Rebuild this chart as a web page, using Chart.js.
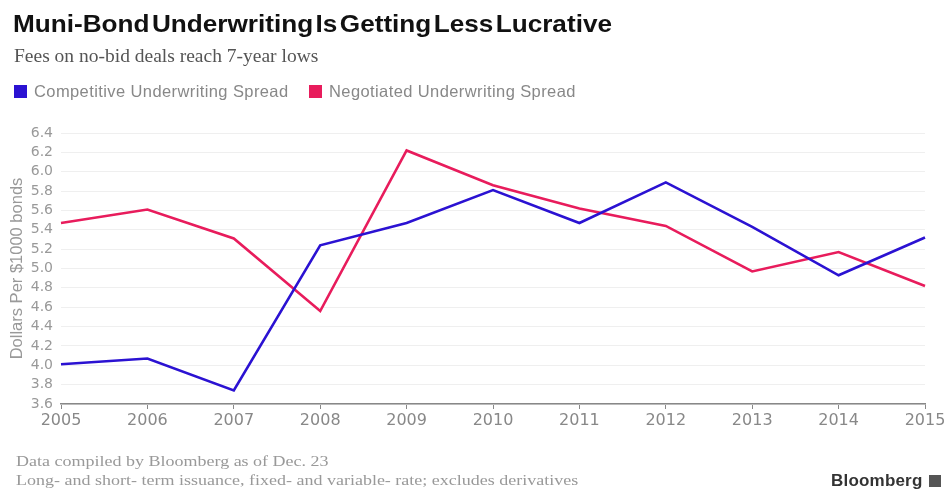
<!DOCTYPE html>
<html>
<head>
<meta charset="utf-8">
<script src="https://cdn.jsdelivr.net/npm/chart.js@4"></script>
<style>
  html, body { margin: 0; padding: 0; background: #fff; }
  #wrap { position: relative; width: 944px; height: 489px; overflow: hidden; }
  canvas { position: absolute; left: 0; top: 0; }
  .t { position: absolute; white-space: nowrap; transform-origin: 0 0; }
  #title { left: 13px; top: 12px; font: bold 24px/24px "Liberation Sans", Arial, sans-serif; word-spacing: -4.5px; color: #111; transform: scaleX(1.09); }
  #sub { left: 14px; top: 46px; font: 19.5px/19.5px "Liberation Serif", "Times New Roman", serif; color: #555; }
  .leg { position: absolute; top: 82px; font: 16.5px/19px "Liberation Sans", Arial, sans-serif; letter-spacing: 0.4px; color: #888; white-space: nowrap; }
  .sq { display: inline-block; width: 13px; height: 13px; vertical-align: -1px; margin-right: 7px; }
  .foot { position: absolute; left: 16px; font: 15px/15px "Liberation Serif", "Times New Roman", serif; color: #999; white-space: nowrap; transform-origin: 0 0; transform: scaleX(1.2); }
  #logo { position: absolute; left: 831px; top: 472px; font: bold 17px/17px "Liberation Sans", Arial, sans-serif; color: #333; letter-spacing: 0.2px; white-space: nowrap; }
  #logo span { display: inline-block; width: 12px; height: 12px; background: #555; vertical-align: -1px; margin-left: 6px; }
</style>
</head>
<body>
<div id="wrap">
  <canvas id="c" width="944" height="489"></canvas>
  <div class="t" id="title">Muni-Bond Underwriting Is Getting Less Lucrative</div>
  <div class="t" id="sub">Fees on no-bid deals reach 7-year lows</div>
  <div class="leg" style="left:14px"><span class="sq" style="background:#2b12d2"></span>Competitive Underwriting Spread</div>
  <div class="leg" style="left:309px"><span class="sq" style="background:#e81c5c"></span>Negotiated Underwriting Spread</div>
  <div class="foot" style="top:454px">Data compiled by Bloomberg as of Dec. 23</div>
  <div class="foot" style="top:473px">Long- and short- term issuance, fixed- and variable- rate; excludes derivatives</div>
  <div id="logo">Bloomberg<span></span></div>
</div>
<script>
const years = ["2005","2006","2007","2008","2009","2010","2011","2012","2013","2014","2015"];
const competitive = [4.01, 4.07, 3.74, 5.24, 5.47, 5.81, 5.47, 5.89, 5.43, 4.93, 5.32];
const negotiated  = [5.47, 5.61, 5.31, 4.56, 6.22, 5.86, 5.62, 5.44, 4.97, 5.17, 4.82];
const seriesNames = ["Competitive Underwriting Spread", "Negotiated Underwriting Spread"];
const yMin = 3.6, yMax = 6.4, yStep = 0.2;
const yTitle = "Dollars Per $1000 bonds";

new Chart(document.getElementById('c'), {
  type: 'line',
  data: {
    labels: years,
    datasets: [
      { label: seriesNames[0], data: competitive, borderColor: '#2b12d2', borderWidth: 2.6, pointRadius: 0, tension: 0, fill: false },
      { label: seriesNames[1], data: negotiated, borderColor: '#e81c5c', borderWidth: 2.6, pointRadius: 0, tension: 0, fill: false }
    ]
  },
  options: {
    responsive: false,
    animation: false,
    layout: { padding: { left: 8, right: 19, top: 133, bottom: 0 } },
    plugins: { legend: { display: false }, tooltip: { enabled: false } },
    scales: {
      x: {
        offset: false,
        grid: { display: true, drawOnChartArea: false, drawTicks: true, tickLength: 5, color: '#888', lineWidth: 1 },
        border: { display: true, color: '#888', width: 1.5 },
        ticks: { color: '#888', font: { family: 'DejaVu Sans, sans-serif', size: 16 }, padding: 2, maxRotation: 0, autoSkip: false },
        afterFit: s => { s.height = 85; s.paddingRight = 0; s.paddingLeft = 0; }
      },
      y: {
        min: yMin, max: yMax,
        grid: { color: '#efefef', drawTicks: false, lineWidth: 1 },
        border: { display: false },
        ticks: { stepSize: yStep, autoSkip: false, color: '#999', font: { family: 'DejaVu Sans, sans-serif', size: 14 }, padding: 8, callback: v => v.toFixed(1) },
        title: { display: true, text: yTitle, color: '#999', font: { family: 'Liberation Sans, Arial, sans-serif', size: 16.5 }, padding: { top: 0, bottom: 0 } },
        afterFit: s => { s.width = 53; s.paddingTop = 0; s.paddingBottom = 0; }
      }
    }
  }
});
</script>
</body>
</html>
